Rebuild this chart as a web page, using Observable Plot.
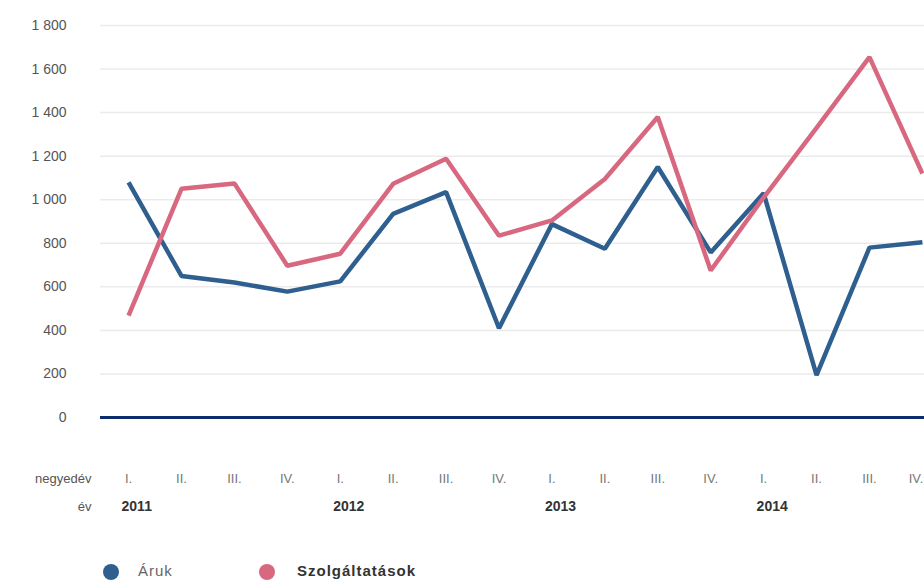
<!DOCTYPE html>
<html>
<head>
<meta charset="utf-8">
<script src="https://cdn.jsdelivr.net/npm/d3@7"></script>
<script src="https://cdn.jsdelivr.net/npm/@observablehq/plot@0.6"></script>
<style>
  html, body { margin: 0; padding: 0; background: #fff; overflow: hidden; }
  #wrap { width: 924px; height: 580px; position: relative; font-family: "Liberation Sans", Arial, sans-serif; }
  #legend { position: relative; height: 32px; width: 924px; }
  .sw { position: absolute; width: 16px; height: 16px; border-radius: 50%; top: 16px; }
  .lab { position: absolute; top: 15px; font-size: 15px; line-height: 16px; letter-spacing: 1px; }
</style>
</head>
<body>
<div id="wrap"></div>
<script>
// ---- data ----
const quarterLabels = ["I.","II.","III.","IV.","I.","II.","III.","IV.","I.","II.","III.","IV.","I.","II.","III.","IV."];
const years = ["2011","2012","2013","2014"];
const yearStartIndex = [0, 4, 8, 12];
const seriesNames = ["Áruk", "Szolgáltatások"];
const seriesColors = ["#2f5f8f", "#d8687f"];
const aruk  = [1080, 650, 620, 578, 625, 935, 1035, 410, 888, 775, 1150, 758, 1030, 195, 780, 805];
const szolg = [468, 1050, 1075, 697, 752, 1073, 1188, 835, 905, 1095, 1380, 675, 1010, 1330, 1655, 1120];
const yTicks = [0, 200, 400, 600, 800, 1000, 1200, 1400, 1600, 1800];

// ---- build tables ----
const rows = [];
[aruk, szolg].forEach((vals, s) => vals.forEach((v, i) => rows.push({i, v, s: seriesNames[s]})));
const qRows = quarterLabels.map((q, i) => ({i, q}));
const qInner = qRows.slice(0, -1);
const qLast = qRows.slice(-1);
const yRows = years.map((y, k) => ({i: yearStartIndex[k], y}));
const fmt = d => d3.format(",")(d).replace(/,/g, " ");

const H = 548;
const chart = Plot.plot({
  width: 924,
  height: H,
  marginLeft: 100,
  marginRight: 0,
  marginTop: 25,
  marginBottom: H - 417,
  style: {fontFamily: "Liberation Sans, Arial, sans-serif", background: "#fff"},
  x: {domain: [-0.53, 15.04], axis: null},
  y: {domain: [0, 1800], axis: null},
  color: {domain: seriesNames, range: seriesColors},
  marks: [
    Plot.gridY(yTicks.filter(d => d > 0), {stroke: "#ebebeb", strokeOpacity: 1, strokeWidth: 1.5}),
    Plot.axisY(yTicks, {tickSize: 0, tickPadding: 34, tickFormat: fmt, fontSize: 14, fill: "#555", label: null}),
    Plot.ruleY([0], {stroke: "#0c2d6b", strokeWidth: 3}),
    Plot.line(rows, {x: "i", y: "v", z: "s", stroke: "s", strokeWidth: 4.5, strokeLinejoin: "miter", strokeLinecap: "butt"}),
    Plot.text(qInner, {x: "i", text: "q", frameAnchor: "bottom", dy: 65, fontSize: 13, fill: "#777"}),
    Plot.text(qLast, {x: "i", text: "q", frameAnchor: "bottom", dy: 65, dx: 1, textAnchor: "end", fontSize: 13, fill: "#777"}),
    Plot.text(yRows, {x: "i", text: "y", frameAnchor: "bottom", dy: 93, dx: -7, textAnchor: "start", fontSize: 14, fontWeight: "bold", fill: "#333"}),
    Plot.text(["negyedév"], {frameAnchor: "bottom-left", textAnchor: "end", dx: -9, dy: 65, fontSize: 13, fill: "#555"}),
    Plot.text(["év"], {frameAnchor: "bottom-left", textAnchor: "end", dx: -9, dy: 93, fontSize: 13, fill: "#555"})
  ]
});

const wrap = document.getElementById("wrap");
wrap.appendChild(chart);

// ---- legend ----
const legend = document.createElement("div");
legend.id = "legend";
const legendX = [103, 259];
const labelX = [138, 297];
seriesNames.forEach((name, k) => {
  const sw = document.createElement("div");
  sw.className = "sw";
  sw.style.left = legendX[k] + "px";
  sw.style.background = seriesColors[k];
  const lab = document.createElement("div");
  lab.className = "lab";
  lab.style.left = labelX[k] + "px";
  lab.textContent = name;
  lab.style.color = k === 0 ? "#666" : "#333";
  lab.style.fontWeight = k === 0 ? "normal" : "bold";
  legend.appendChild(sw);
  legend.appendChild(lab);
});
wrap.appendChild(legend);
</script>
</body>
</html>
